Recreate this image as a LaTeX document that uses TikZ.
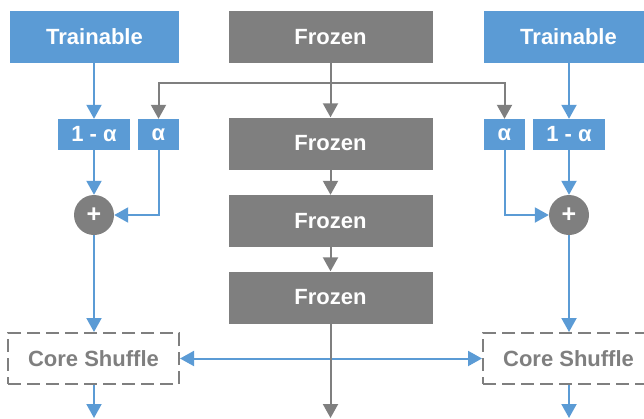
\documentclass[tikz,border=0pt]{standalone}
\usepackage{fontspec}
\setmainfont{Liberation Sans}
\usetikzlibrary{arrows.meta}
\definecolor{tblue}{HTML}{5B9BD5}
\definecolor{tgray}{HTML}{7F7F7F}
\begin{document}
\begin{tikzpicture}[x=1pt,y=-1pt,
 box/.style={inner sep=0pt, text=white, font=\fontsize{22}{26}\selectfont\bfseries},
 trainbox/.style={box, fill=tblue, minimum width=169pt, minimum height=52pt},
 frozenbox/.style={box, fill=tgray, minimum width=204pt, minimum height=52pt},
 alphabox/.style={box, fill=tblue, minimum height=31pt},
 addnode/.style={circle, fill=tgray, minimum size=40pt, inner sep=0pt, text=white, font=\fontsize{25}{28}\selectfont\bfseries},
 shufflebox/.style={draw=tgray, line width=2pt, dash pattern=on 13pt off 6pt, minimum width=171pt, minimum height=51pt, inner sep=0pt, text=tgray, font=\fontsize{22}{26}\selectfont\bfseries},
 bluearrow/.style={draw=tblue, line width=2pt, -{Triangle[length=14pt,width=15pt]}},
 grayarrow/.style={draw=tgray, line width=2pt, -{Triangle[length=14pt,width=15pt]}}
]
\useasboundingbox (0,0) rectangle (644,418);
% nodes
\node[trainbox] (trainL) at (94.5,37) {Trainable};
\node[frozenbox] (frozen1) at (330.5,37) {Frozen};
\node[trainbox] (trainR) at (568.5,37) {Trainable};
\node[frozenbox] (frozen2) at (330.5,143.5) {Frozen};
\node[frozenbox] (frozen3) at (330.5,221) {Frozen};
\node[frozenbox] (frozen4) at (330.5,297.5) {Frozen};
\node[alphabox, minimum width=72pt] (omL) at (94,134.5) {1 - α};
\node[alphabox, minimum width=41pt] (aL) at (158.5,134.5) {α};
\node[alphabox, minimum width=41pt] (aR) at (504.5,134.5) {α};
\node[alphabox, minimum width=72pt] (omR) at (569,134.5) {1 - α};
\node[addnode] (addL) at (94,215) {+};
\node[addnode] (addR) at (569,215) {+};
\node[shufflebox] (shufL) at (93.5,358.5) {Core Shuffle};
\node[shufflebox] (shufR) at (568.5,358.5) {Core Shuffle};
\coordinate (jn) at (330.5,83);
\coordinate (outL) at (94,418);
\coordinate (outC) at (330.5,418);
\coordinate (outR) at (569,418);
% blue connectors
\draw[bluearrow] (trainL.south -| omL) -- (omL.north);
\draw[bluearrow] (omL.south) -- (addL.north);
\draw[bluearrow] (aL.south) |- (addL.east);
\draw[bluearrow] (addL.south) -- (shufL.north -| addL);
\draw[bluearrow] (shufL.south -| addL) -- (outL);
\draw[bluearrow] (trainR.south -| omR) -- (omR.north);
\draw[bluearrow] (omR.south) -- (addR.north);
\draw[bluearrow] (aR.south) |- (addR.west);
\draw[bluearrow] (addR.south) -- (shufR.north -| addR);
\draw[bluearrow] (shufR.south -| addR) -- (outR);
\draw[bluearrow, {Triangle[length=14pt,width=15pt]}-{Triangle[length=14pt,width=15pt]}] (shufL.east) -- (shufR.west);
% gray connectors
\draw[grayarrow] (frozen1.south) -- (frozen2.north);
\draw[grayarrow] (jn) -| (aL.north);
\draw[grayarrow] (jn) -| (aR.north);
\draw[grayarrow] (frozen2.south) -- (frozen3.north);
\draw[grayarrow] (frozen3.south) -- (frozen4.north);
\draw[grayarrow] (frozen4.south) -- (outC);
\end{tikzpicture}
\end{document}
